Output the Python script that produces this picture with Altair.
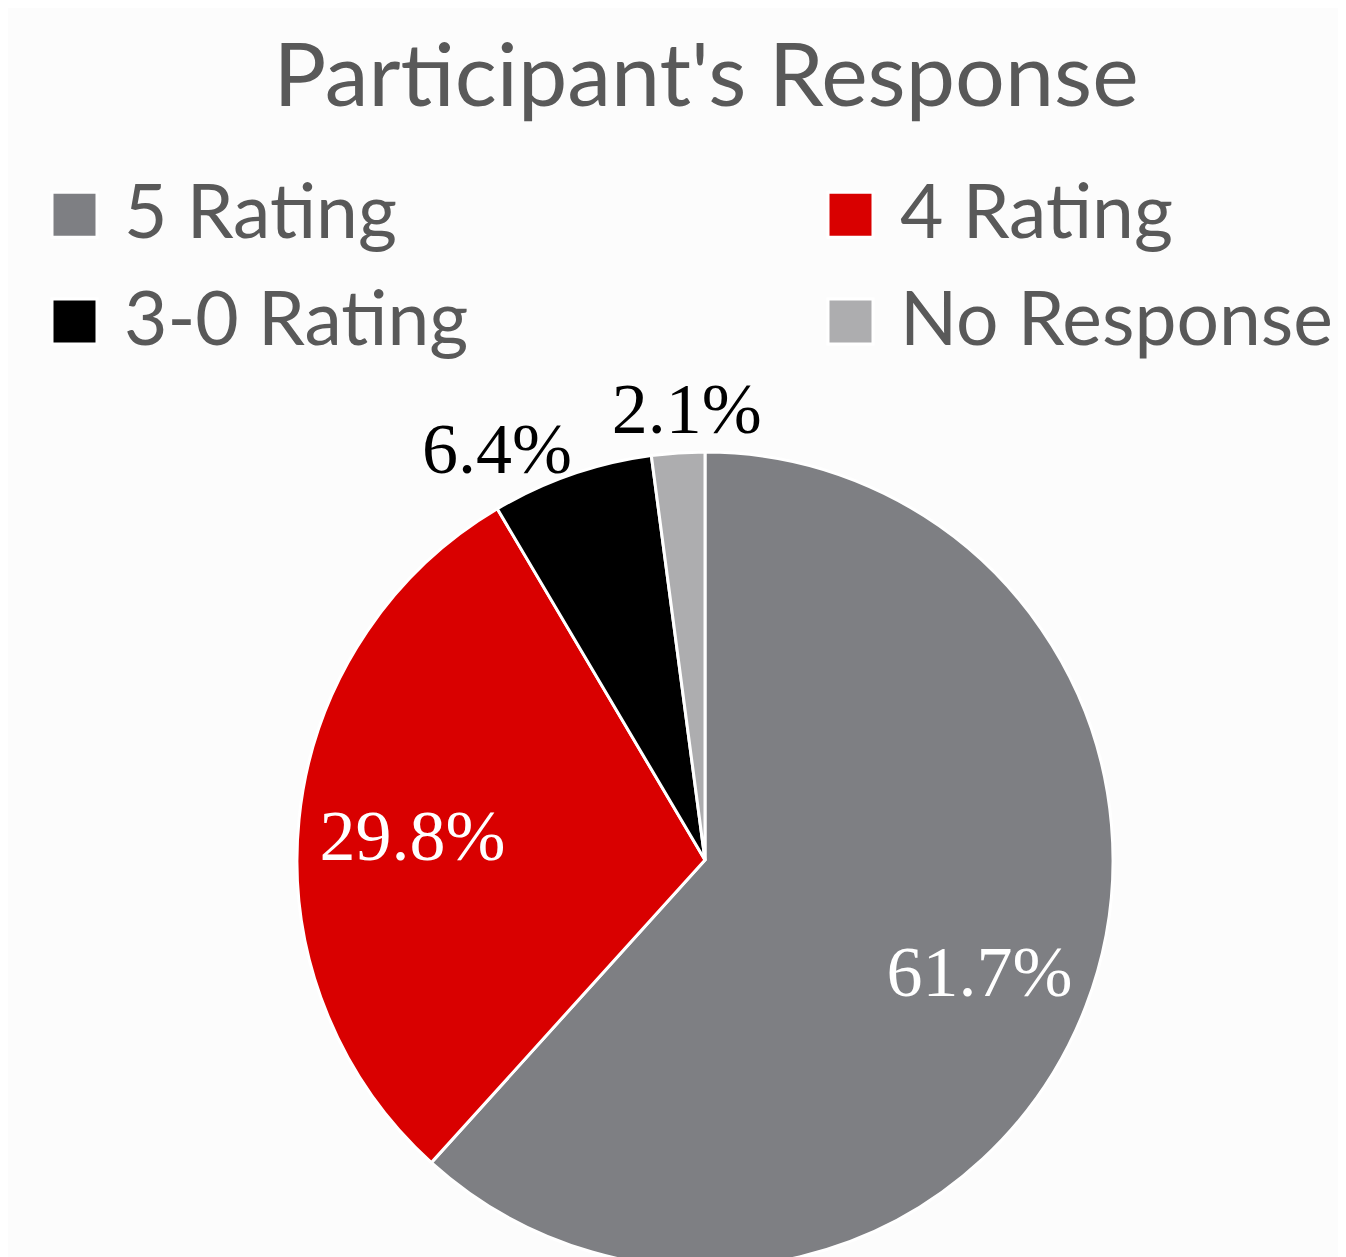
import altair as alt
import pandas as pd

categories = ["5 Rating", "4 Rating", "3-0 Rating", "No Response"]
values = [61.7, 29.8, 6.4, 2.1]
colors = ["#7e7f83", "#d90000", "#000000", "#adadaf"]

df = pd.DataFrame({"category": categories, "value": values, "idx": list(range(len(categories)))})

CX, CY = 697, 722

theta = alt.Theta("value:Q", stack=True)
order = alt.Order("idx:Q", sort="ascending")
color = alt.Color(
    "category:N",
    scale=alt.Scale(domain=categories, range=colors),
    sort=categories,
    legend=alt.Legend(
        title=None,
        orient="none",
        legendX=29,
        legendY=39,
        columns=2,
        direction="horizontal",
        symbolType="square",
        symbolSize=2025,
        symbolStrokeColor="white",
        symbolStrokeWidth=3,
        symbolOpacity=1,
        labelFont="Lato",
        labelFontSize=75,
        labelColor="#595959",
        labelOffset=12,
        labelLimit=0,
        rowPadding=31,
        columnPadding=344,
    ),
)

base = alt.Chart(df).transform_calculate(
    label="format(datum.value, '.1f') + '%'"
)

pie = base.mark_arc(outerRadius=408, stroke="white", strokeWidth=3).encode(
    theta=theta, order=order, color=color,
    x=alt.value(CX), y=alt.value(CY),
)


def label_layer(cond, radius, col, dx=0, dy=0):
    return base.transform_calculate(
        shown=f"({cond}) ? datum.label : ''"
    ).mark_text(
        radius=radius, font="Liberation Serif", fontSize=72, color=col,
        baseline="middle", align="center", dx=dx, dy=dy,
    ).encode(theta=theta, order=order, text="shown:N", x=alt.value(CX), y=alt.value(CY))


inside = label_layer("datum.value > 10", 294, "white", 0, 8)
out1 = label_layer("datum.category == '3-0 Rating'", 462, "black", -57, 28)
out2 = label_layer("datum.category == 'No Response'", 458, "black", 12, 8)

chart = alt.layer(pie, inside, out1, out2).properties(
    width=1330,
    height=1119,
    padding={"left": 0, "top": 130, "right": 0, "bottom": 0},
    autosize=alt.AutoSizeParams(type="none"),
    background="#fcfcfc",
    title=alt.TitleParams(
        "Participant's Response",
        font="Lato",
        fontSize=88,
        fontWeight="normal",
        color="#595959",
        anchor="middle",
        frame="group",
        dx=33,
        dy=71,
        offset=15,
        baseline="alphabetic",
    ),
).configure_view(stroke=None)

chart.save("out.html", embed_options={"renderer": "svg", "actions": False})
